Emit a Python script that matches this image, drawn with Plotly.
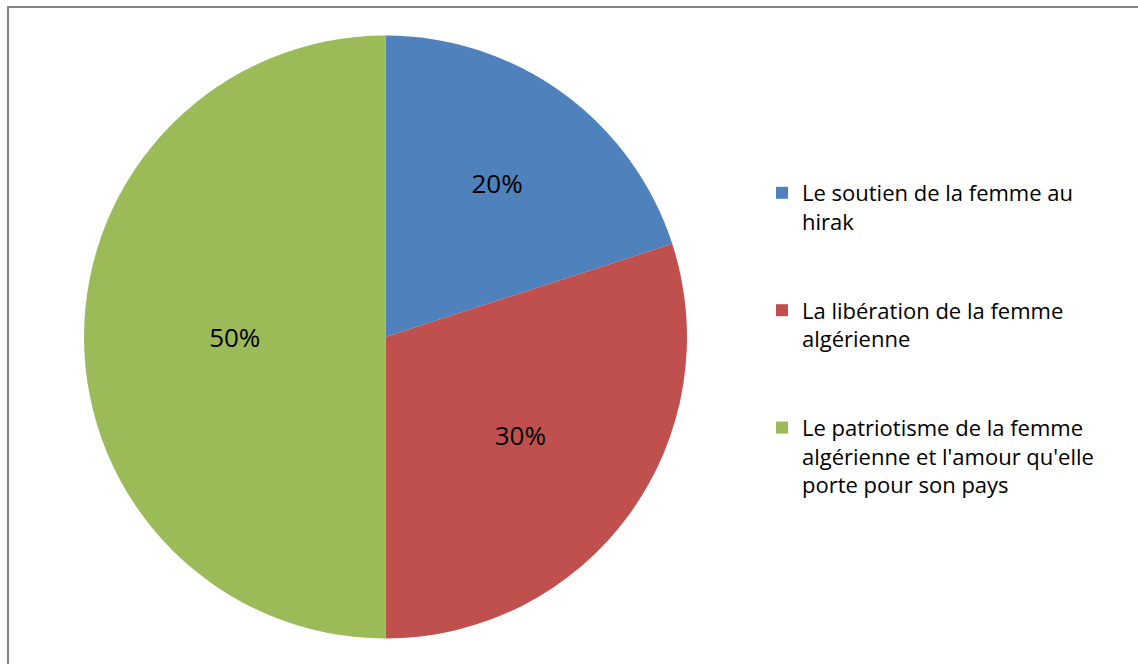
import plotly.graph_objects as go

labels = [
    "Le soutien de la femme au<br>hirak",
    "La libération de la femme<br>algérienne",
    "Le patriotisme de la femme<br>algérienne et l'amour qu'elle<br>porte pour son pays",
]
values = [20, 30, 50]
colors = ["#4F81BD", "#C0504D", "#9BBB59"]

W, H = 1138, 664
FONT = "Open Sans"

# extra blank lines give the wider gap between legend entries
legend_labels = [l + "<br> <br> " if i < len(labels) - 1 else l for i, l in enumerate(labels)]

fig = go.Figure(
    go.Pie(
        labels=legend_labels,
        values=values,
        sort=False,
        direction="clockwise",
        rotation=0,
        marker=dict(colors=colors, line=dict(width=0)),
        textinfo="percent",
        textposition="inside",
        insidetextorientation="horizontal",
        textfont=dict(family=FONT, size=26, color="#000000"),
        hoverinfo="label+percent",
        domain=dict(x=[84 / W, 687 / W], y=[(H - 639) / H, (H - 35) / H]),
    )
)

fig.add_shape(
    type="rect", xref="paper", yref="paper",
    x0=8 / W, x1=1.05, y0=-0.05, y1=1 - 7 / H,
    line=dict(color="#868686", width=2), fillcolor="rgba(0,0,0,0)",
)

fig.update_layout(
    width=W, height=H,
    margin=dict(l=0, r=0, t=0, b=0),
    paper_bgcolor="white",
    plot_bgcolor="white",
    showlegend=True,
    legend=dict(
        x=762 / W, xanchor="left",
        y=1 - 172 / H, yanchor="top",
        font=dict(family=FONT, size=22, color="#000000"),
        valign="top",
        bgcolor="rgba(0,0,0,0)",
        itemclick=False, itemdoubleclick=False,
    ),
)

fig.write_html(
    "out.html",
    config={"displayModeBar": False},
    post_script="document.body.style.margin='0';",
)
